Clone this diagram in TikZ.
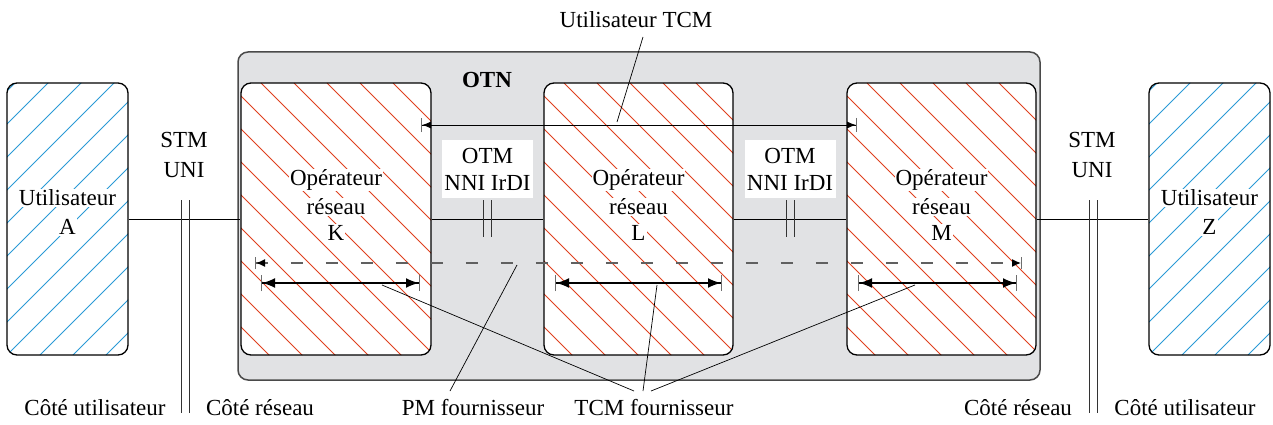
\documentclass[tikz,border=0pt]{standalone}
\usepackage{fontspec}
\setmainfont{Liberation Serif}
\usetikzlibrary{arrows.meta}
\definecolor{hatchblue}{HTML}{2A9AD6}
\definecolor{hatchred}{HTML}{E0401E}
\definecolor{otngray}{HTML}{E1E2E4}
\definecolor{otnborder}{HTML}{4A4A4A}
\definecolor{barcol}{HTML}{6E6E6E}
\definecolor{dashcol}{HTML}{606060}
\begin{document}
\begin{tikzpicture}[x=1pt,y=-1pt,
  font=\fontsize{23}{27}\selectfont,
  box/.style={draw=black, line width=1.3pt, rounded corners=10pt, fill=white, inner sep=0pt, minimum height=272pt},
  userbox/.style={box, minimum width=121pt, path picture={
     \foreach \k in {-330,-297,...,160}
       \draw[hatchblue, line width=0.9pt] ([xshift=\k pt]path picture bounding box.south west) -- ++(400pt,400pt);}},
  opbox/.style={box, minimum width=190pt, path picture={
     \foreach \k in {-310,-277,...,220}
       \draw[hatchred, line width=0.9pt] ([xshift=\k pt]path picture bounding box.north west) -- ++(400pt,-400pt);}},
  lbl/.style={fill=white, inner sep=1pt},
  txt/.style={inner sep=1pt},
  link/.style={draw=black, line width=0.8pt},
  tickln/.style={draw=black!80, line width=0.9pt},
  leader/.style={draw=black, line width=0.7pt},
  thinarr/.style={draw=black, line width=0.9pt,
     {Bar[width=14pt,line width=1pt,color=barcol]Latex[length=9pt,width=7pt]}-{Latex[length=9pt,width=7pt]Bar[width=14pt,line width=1pt,color=barcol]}},
  thickarr/.style={draw=black, line width=2pt,
     {Bar[width=16pt,line width=1pt,color=barcol]Latex[length=13pt,width=10pt]}-{Latex[length=13pt,width=10pt]Bar[width=16pt,line width=1pt,color=barcol]}},
  pmarr/.style={draw=dashcol, line width=1.4pt, dash pattern=on 12pt off 23pt,
     {Bar[width=12pt,line width=1pt,color=barcol]Latex[length=9pt,width=8pt,color=black]}-{Latex[length=9pt,width=8pt,color=black]Bar[width=12pt,line width=1pt,color=barcol]}},
]
\useasboundingbox (0,0) rectangle (1273,425);

% OTN domain
\node[draw=otnborder, fill=otngray, line width=1.5pt, rounded corners=10pt,
      minimum width=802pt, minimum height=328pt, inner sep=0pt] (otn) at (639,216) {};
\node[txt, font=\fontsize{23}{27}\selectfont\bfseries] (otnl) at (487,80) {OTN};

% boxes
\node[userbox] (A) at (67.5,219) {};
\node[opbox]   (K) at (336,219) {};
\node[opbox, minimum width=189pt] (L) at (638.5,219) {};
\node[opbox, minimum width=189pt] (M) at (941.5,219) {};
\node[userbox] (Z) at (1209.5,219) {};

% box texts
\node[lbl] (A1) at (67.5,198) {Utilisateur};
\node[lbl] (A2) at (67.5,227) {A};
\node[lbl] (K1) at (336,180) {Opérateur};
\node[lbl] (K2) at (336,207) {réseau};
\node[lbl] (K3) at (336,233) {K};
\node[lbl] (L1) at (638.5,180) {Opérateur};
\node[lbl] (L2) at (638.5,207) {réseau};
\node[lbl] (L3) at (638.5,233) {L};
\node[lbl] (M1) at (941.5,180) {Opérateur};
\node[lbl] (M2) at (941.5,207) {réseau};
\node[lbl] (M3) at (941.5,233) {M};
\node[lbl] (Z1) at (1209.5,198) {Utilisateur};
\node[lbl] (Z2) at (1209.5,227) {Z};

% links
\draw[link] (A.east) -- (K.west);
\draw[link] (K.east) -- (L.west);
\draw[link] (L.east) -- (M.west);
\draw[link] (M.east) -- (Z.west);

% interface labels
\node[txt] (stml) at (184,140) {STM};
\node[txt] (unil) at (184,170) {UNI};
\node[txt] (stmr) at (1092,140) {STM};
\node[txt] (unir) at (1092,170) {UNI};
\node[fill=white, inner sep=0pt, minimum width=91pt, minimum height=58pt, align=center,
      font=\fontsize{23}{27}\selectfont] (otm1) at (487.5,169) {OTM\\NNI IrDI};
\node[fill=white, inner sep=0pt, minimum width=91pt, minimum height=58pt, align=center,
      font=\fontsize{23}{27}\selectfont] (otm2) at (790,169) {OTM\\NNI IrDI};

% interface double ticks
\draw[tickln] (181,200) -- (181,413);
\draw[tickln] (189,200) -- (189,413);
\draw[tickln] (1089,200) -- (1089,413);
\draw[tickln] (1097,200) -- (1097,413);
\draw[tickln] (483.5,200) -- (483.5,237);
\draw[tickln] (491.5,200) -- (491.5,237);
\draw[tickln] (786,200) -- (786,237);
\draw[tickln] (794,200) -- (794,237);

% arrows
\coordinate (u1) at (421,125);
\coordinate (u2) at (857,125);
\draw[thinarr] (u1) -- (u2);
\coordinate (p1) at (255,263);
\coordinate (p2) at (1022,263);
\draw[pmarr] (p1) -- (p2);
\coordinate (k1) at (261,283);
\coordinate (k2) at (420,283);
\draw[thickarr] (k1) -- (k2);
\coordinate (l1) at (555,283);
\coordinate (l2) at (722,283);
\draw[thickarr] (l1) -- (l2);
\coordinate (m1) at (858,283);
\coordinate (m2) at (1017,283);
\draw[thickarr] (m1) -- (m2);

% top label
\node[txt] (utcm) at (636,20) {Utilisateur TCM};
\coordinate (utcmA) at (643,37);
\coordinate (utcmB) at (617,122);
\draw[leader] (utcmA) -- (utcmB);

% bottom labels
\node[txt] (cu1) at (95,408) {Côté utilisateur};
\node[txt] (cr1) at (260,408) {Côté réseau};
\node[txt] (pmf) at (473,408) {PM fournisseur};
\node[txt] (tcmf) at (654,408) {TCM fournisseur};
\node[txt] (cr2) at (1018,408) {Côté réseau};
\node[txt] (cu2) at (1185,408) {Côté utilisateur};

% leaders
\coordinate (pmA) at (517,265);
\coordinate (pmB) at (450,391);
\draw[leader] (pmA) -- (pmB);
\coordinate (tK) at (382,285);
\coordinate (tL) at (657,285);
\coordinate (tM) at (915,285);
\coordinate (tA) at (634,391);
\coordinate (tB) at (643,391);
\coordinate (tC) at (651,391);
\draw[leader] (tK) -- (tA);
\draw[leader] (tL) -- (tB);
\draw[leader] (tM) -- (tC);
\end{tikzpicture}
\end{document}
